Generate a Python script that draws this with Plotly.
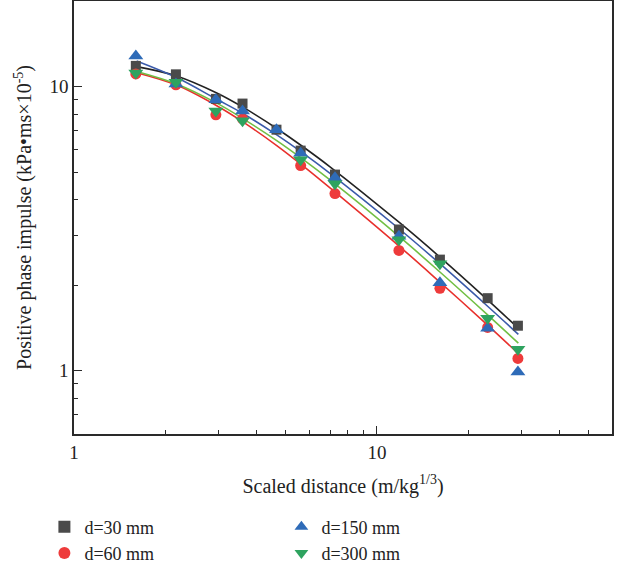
import plotly.graph_objects as go

# Scaled distance (m/kg^1/3) of the measured points
x_all = [1.60, 2.17, 2.94, 3.60, 4.66, 5.60, 7.27, 11.82, 16.14, 23.2, 29.2]
x_no5 = [1.60, 2.17, 2.94, 3.60, 5.60, 7.27, 11.82, 16.14, 23.2, 29.2]

# Measured positive phase impulse (kPa·ms×10^-5)
d30 = [11.82, 11.04, 9.05, 8.71, 7.05, 5.95, 4.90, 3.14, 2.46, 1.80, 1.44]
d150 = [12.82, 10.2, 8.98, 8.21, 7.05, 5.82, 4.78, 2.97, 2.04, 1.41, 0.99]
d60 = [11.08, 10.14, 7.95, 7.70, 5.27, 4.20, 2.65, 1.95, 1.42, 1.105]
d300 = [11.17, 10.35, 8.21, 7.58, 5.53, 4.55, 2.89, 2.38, 1.53, 1.19]

# Fitted curves
fit_x = [1.61, 2.18, 2.96, 3.61, 4.67, 5.70, 7.00, 11.91, 16.14, 23.0, 29.3]
fit30 = [11.75, 10.89, 9.49, 8.46, 7.12, 6.14, 5.22, 3.31, 2.51, 1.79, 1.41]
fit150 = [12.31, 10.76, 9.02, 8.04, 6.76, 5.83, 4.95, 3.14, 2.38, 1.70, 1.343]
fit300 = [11.30, 10.21, 8.74, 7.71, 6.45, 5.54, 4.69, 2.95, 2.225, 1.585, 1.25]
fit60 = [11.19, 10.12, 8.56, 7.51, 6.20, 5.26, 4.40, 2.73, 2.05, 1.459, 1.148]

series = [
    ("d=30 mm", x_all, d30, fit30, "square", "#4a4a4a", "#222222", 10, 1),
    ("d=60 mm", x_no5, d60, fit60, "circle", "#ee3b3b", "#e8302c", 11, 3),
    ("d=150 mm", x_all, d150, fit150, "triangle-up", "#2e6bb8", "#3a5aaa", 13, 2),
    ("d=300 mm", x_no5, d300, fit300, "triangle-down", "#2ea35f", "#72bf44", 13, 4),
]

fig = go.Figure()
for name, xs, ys, fy, sym, mc, lc, ms, rank in series:
    fig.add_trace(go.Scatter(x=fit_x, y=fy, mode="lines",
                             line=dict(color=lc, width=1.6, shape="spline", smoothing=1.0),
                             showlegend=False, hoverinfo="skip"))
for name, xs, ys, fy, sym, mc, lc, ms, rank in series:
    fig.add_trace(go.Scatter(x=xs, y=ys, mode="markers", name=name,
                             legendrank=rank,
                             marker=dict(symbol=sym, color=mc, size=ms,
                                         line=dict(width=0))))

font = "Liberation Serif, Times New Roman, serif"
axcol = "#2a2a2a"
fig.update_layout(
    width=623, height=572,
    margin=dict(l=74, r=11, t=1, b=138, autoexpand=False),
    paper_bgcolor="white", plot_bgcolor="white",
    font=dict(family=font, size=19, color="#222222"),
    showlegend=True,
    legend=dict(orientation="h", x=-0.055, y=-0.172, xanchor="left", yanchor="top",
                entrywidth=192, entrywidthmode="pixels",
                font=dict(size=18, family=font), traceorder="normal",
                itemsizing="constant", tracegroupgap=0),
)
fig.update_xaxes(
    type="log", range=[0, 1.776],
    showgrid=False, zeroline=False,
    showline=True, linecolor=axcol, linewidth=1.6, mirror=True,
    ticks="inside", ticklen=8, tickwidth=1.3, tickcolor=axcol,
    tickmode="array", tickvals=[1, 10], ticktext=["1", "10"],
    minor=dict(ticks="inside", ticklen=4, tickwidth=1.2, tickcolor=axcol,
               tickmode="array", tickvals=[2, 3, 4, 5, 6, 7, 8, 9, 20, 30, 40, 50]),
    tickfont=dict(size=19),
    title=dict(text="Scaled distance (m/kg<sup>1/3</sup>)", font=dict(size=20), standoff=17),
)
fig.update_yaxes(
    type="log", range=[-0.2227, 1.301],
    showgrid=False, zeroline=False,
    showline=True, linecolor=axcol, linewidth=1.6, mirror=True,
    ticks="inside", ticklen=8, tickwidth=1.3, tickcolor=axcol,
    tickmode="array", tickvals=[1, 10], ticktext=["1", "10"],
    minor=dict(ticks="inside", ticklen=4, tickwidth=1.2, tickcolor=axcol,
               tickmode="array", tickvals=[0.6, 0.7, 0.8, 0.9, 2, 3, 4, 5, 6, 7, 8, 9]),
    tickfont=dict(size=19),
    title=dict(text="Positive phase impulse (kPa•ms×10<sup>-5</sup>)", font=dict(size=20), standoff=12),
)
fig.write_html("out.html")
